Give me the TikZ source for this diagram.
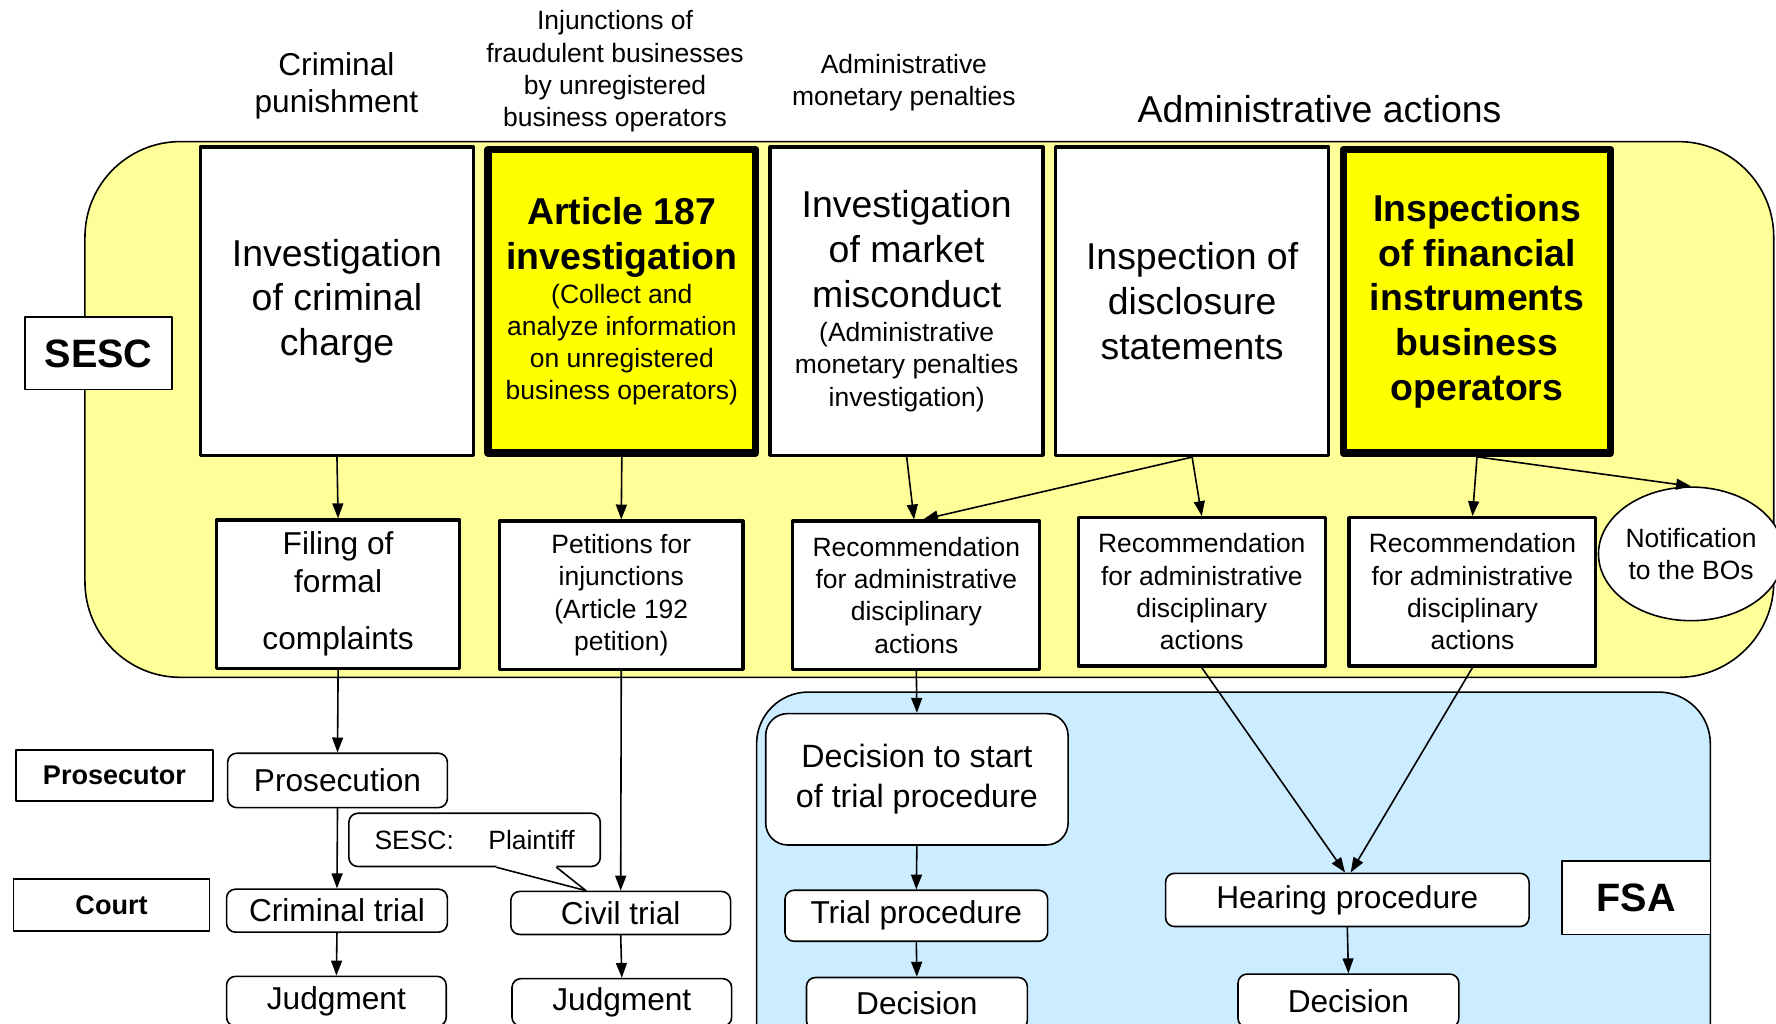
\documentclass[tikz,border=0pt]{standalone}
\usepackage{fontspec}
\setmainfont{Liberation Sans}
\usetikzlibrary{arrows.meta,shapes.geometric,calc}
\definecolor{sescyellow}{HTML}{FFFF99}
\definecolor{hiyellow}{HTML}{FFFF00}
\definecolor{fsablue}{HTML}{CCECFF}
\newcommand{\fbig}{\fontsize{18.8}{22.5}\selectfont}
\newcommand{\fmid}{\fontsize{15.9}{18.8}\selectfont}
\newcommand{\fsml}{\fontsize{13.3}{16.2}\selectfont}
\tikzset{
  topbox/.style={draw,line width=1.8pt,fill=white,minimum width=4.82cm,minimum height=5.44cm,inner sep=0pt,align=center,font=\fbig},
  hibox/.style={draw,line width=3.8pt,fill=hiyellow,minimum width=4.72cm,minimum height=5.36cm,inner sep=0pt,align=center},
  recbox/.style={draw,line width=1.6pt,fill=white,minimum height=2.62cm,inner sep=0pt,align=center,font=\fsml},
  rbox/.style={draw,line width=0.8pt,fill=white,rounded corners=4.5pt,inner sep=0pt,align=center,font=\fmid},
  lblbox/.style={draw,line width=0.8pt,fill=white,inner sep=0pt},
  flow/.style={-{Triangle[length=7.5pt,width=5.5pt]},line width=0.8pt}
}
\begin{document}
\begin{tikzpicture}[x=0.02cm,y=-0.02cm,line cap=round,line join=round]
\path[use as bounding box,clip] (0,0) rectangle (1568,904);
% SESC and FSA areas
\draw[line width=0.8pt,fill=sescyellow,rounded corners=48pt] (75,125) rectangle (1566,598);
\draw[line width=0.8pt,fill=fsablue,rounded corners=26pt] (668,611) rectangle (1510,980);
% headings
\node[align=center,font=\fmid] (hcrim) at (297,76) {Criminal\\punishment};
\node[align=center,font=\fsml] (hinj) at (543,63) {Injunctions of\\fraudulent businesses\\by unregistered\\business operators};
\node[align=center,font=\fsml] (hamp) at (798,73) {Administrative\\monetary penalties};
\node[font=\fbig] (hadm) at (1165,96) {Administrative actions};
% SESC
\node[lblbox,minimum width=2.6cm,minimum height=1.28cm,font=\fontsize{19.9}{24}\selectfont\bfseries] (sesc) at (87,312) {SESC};
\node[topbox] (invcrim) at (297.5,266) {Investigation\\of criminal\\charge};
\node[hibox,text width=4.5cm,align=flush center] (art187) at (549,266) {{\fbig\bfseries Article 187\\investigation\par}\vspace{1pt}{\fsml (Collect and\\analyze information\\on unregistered\\business operators)\par}};
\node[topbox,text width=4.5cm,align=flush center] (invmm) at (800.5,266) {{\fbig Investigation\\of market\\misconduct\par}\vspace{1pt}{\fsml (Administrative\\monetary penalties\\investigation)\par}};
\node[topbox] (inspdisc) at (1052.5,266) {Inspection of\\disclosure\\statements};
\node[hibox,font=\fbig\bfseries] (inspfib) at (1304,266) {Inspections\\of financial\\instruments\\business\\operators};
\node[recbox,minimum width=4.3cm,font=\fmid] (filing) at (298.5,524.5) {Filing of\\formal\\[10pt]complaints};
\node[recbox,minimum width=4.3cm] (petition) at (548.5,525.5) {Petitions for\\injunctions\\(Article 192\\petition)};
\node[recbox,minimum width=4.36cm] (recmm) at (809,525.5) {Recommendation\\for administrative\\disciplinary\\actions};
\node[recbox,minimum width=4.36cm] (recdisc) at (1061,522.5) {Recommendation\\for administrative\\disciplinary\\actions};
\node[recbox,minimum width=4.36cm] (recfib) at (1300,522.5) {Recommendation\\for administrative\\disciplinary\\actions};
\node[draw,ellipse,fill=white,line width=0.8pt,minimum width=3.12cm,minimum height=2.36cm,inner sep=0pt,align=center,font=\fsml] (notif) at (1493,489) {Notification\\to the BOs};
% prosecutor and court
\node[lblbox,minimum width=3.48cm,minimum height=0.9cm,font=\fontsize{13.6}{16}\selectfont\bfseries] (prosecutor) at (101,684.5) {Prosecutor};
\node[lblbox,minimum width=3.46cm,minimum height=0.92cm,font=\fontsize{13.6}{16}\selectfont\bfseries] (court) at (98.5,799) {Court};
\node[rbox,minimum width=3.88cm,minimum height=0.96cm] (prosecution) at (298,689) {Prosecution};
\node[rbox,minimum width=3.9cm,minimum height=0.76cm] (crimtrial) at (297.5,804) {Criminal trial};
\node[rbox,minimum width=3.88cm,minimum height=0.88cm] (judgcrim) at (297,884) {Judgment};
\node[rbox,minimum width=3.88cm,minimum height=0.76cm] (civtrial) at (548,806) {Civil trial};
\node[rbox,minimum width=3.88cm,minimum height=0.84cm] (judgciv) at (549,885) {Judgment};
\node[rbox,minimum width=4.44cm,minimum height=0.94cm,font=\fsml] (plaintiff) at (419,741.5) {SESC:\hspace{1.3em}Plaintiff};
\coordinate (tailL) at ($(plaintiff.south west)+(131,0)$);
\coordinate (tailR) at ($(plaintiff.south west)+(184,0)$);
\coordinate (tailtip) at ($(civtrial.north west)+(67,0)$);
\fill[white] (tailL) -- (tailtip) -- (tailR) -- cycle;
\draw[white,line width=1.4pt] ($(tailL)+(1,-1)$) -- ($(tailR)+(-1,-1)$);
\draw[line width=0.8pt] (tailL) -- (tailtip) -- (tailR);
% FSA
\node[rbox,rounded corners=11pt,minimum width=5.34cm,minimum height=2.32cm,font=\fontsize{16.2}{19.9}\selectfont] (decstart) at (809.5,688) {Decision to start\\of trial procedure};
\node[rbox,minimum width=4.64cm,minimum height=0.9cm] (trialproc) at (809,808.5) {Trial procedure};
\node[rbox,minimum width=3.9cm,minimum height=0.92cm] (dectrial) at (809.5,886) {Decision};
\node[rbox,minimum width=6.42cm,minimum height=0.94cm] (hearing) at (1189.5,794.5) {Hearing procedure};
\node[rbox,minimum width=3.9cm,minimum height=0.94cm] (dechear) at (1190.5,883.5) {Decision};
\node[lblbox,minimum width=2.62cm,minimum height=1.3cm,font=\fontsize{19.9}{24}\selectfont\bfseries] (fsa) at (1444.5,792.5) {FSA};
% connectors
\draw[flow] (invcrim.south) -- (filing.north);
\draw[flow] (art187.south) -- (petition.north);
\draw[flow] (invmm.south) -- ($(recmm.north)+(-2,0)$);
\draw[flow] (inspdisc.south) -- ($(recmm.north)+(6,0)$);
\draw[flow] (inspdisc.south) -- (recdisc.north);
\draw[flow] (inspfib.south) -- (recfib.north);
\draw[flow] (inspfib.south) -- (notif.north);
\draw[flow] (filing.south) -- (prosecution.north);
\draw[flow] (prosecution.south) -- (crimtrial.north);
\draw[flow] (crimtrial.south) -- (judgcrim.north);
\draw[flow] (petition.south) -- (civtrial.north);
\draw[flow] (civtrial.south) -- (judgciv.north);
\draw[flow] (recmm.south) -- (decstart.north);
\draw[flow] (decstart.south) -- (trialproc.north);
\draw[flow] (trialproc.south) -- (dectrial.north);
\draw[flow] (recdisc.south) -- ($(hearing.north)+(-2,0)$);
\draw[flow] (recfib.south) -- ($(hearing.north)+(3,0)$);
\draw[flow] (hearing.south) -- (dechear.north);
\end{tikzpicture}
\end{document}
